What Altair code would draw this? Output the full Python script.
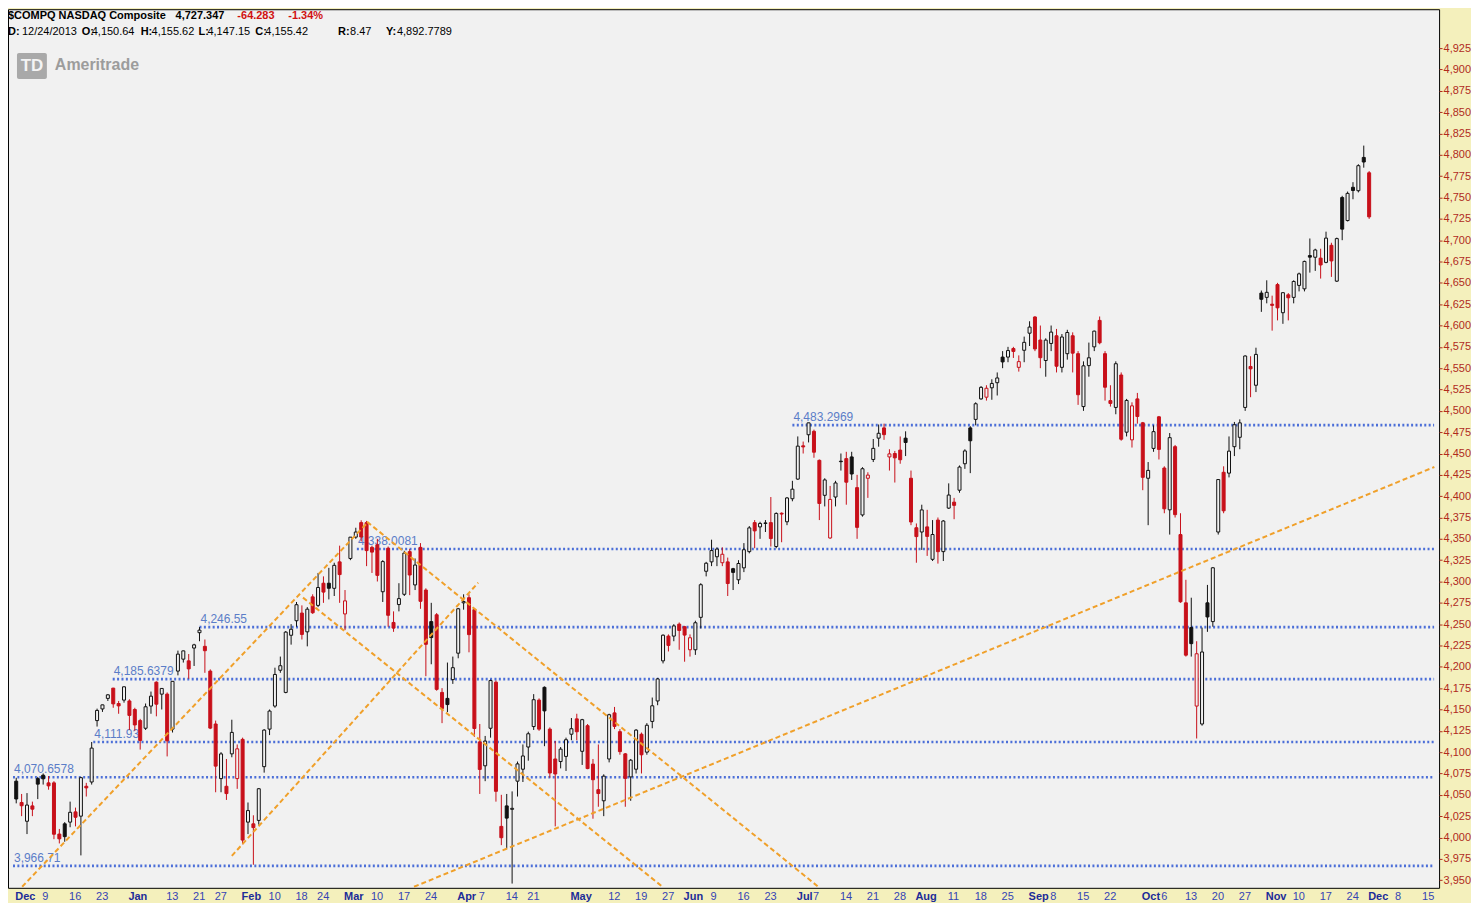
import altair as alt
import pandas as pd

# ---------------- data (NASDAQ Composite daily candles, Dec 2 2013 .. Dec 1 2014) ----------------
opens = [
4066, 4041, 4019, 4037, 4069, 4073, 4064, 4064, 4004, 4016,
4018, 4030, 4025, 4060, 4065, 4137, 4150.64, 4163, 4175, 4157,
4161, 4160, 4150, 4137, 4128, 4154, 4182, 4168, 4168, 4127,
4195, 4209, 4207, 4222, 4240, 4224, 4195, 4133, 4069, 4060,
4098, 4069, 4115, 4018, 4016, 4020, 4083, 4127, 4154, 4196,
4170, 4237, 4254, 4263, 4241, 4282, 4272, 4298, 4298, 4292,
4323, 4262, 4327, 4352, 4369, 4369, 4340, 4343, 4288, 4339,
4252, 4273, 4285, 4335, 4296, 4340, 4290, 4253, 4261, 4170,
4163, 4185, 4216, 4275, 4281, 4267, 4112, 4084, 4128, 4182,
4013, 4037, 4033, 4066, 4080, 4106, 4130, 4161, 4176, 4127,
4092, 4089, 4095, 4121, 4139, 4101, 4131, 4086, 4056, 4043,
4092, 4146, 4124, 4098, 4071, 4080, 4121, 4100, 4136, 4160,
4207, 4236, 4236, 4250, 4247, 4220, 4220, 4258, 4312, 4323,
4329, 4322, 4323, 4315, 4302, 4316, 4335, 4369, 4364, 4368,
4369, 4341, 4380, 4370, 4397, 4420, 4459, 4472, 4476, 4442,
4401, 4351, 4399, 4441, 4444, 4446, 4410, 4378, 4421, 4443,
4468, 4480, 4446, 4450, 4454, 4468, 4421, 4363, 4358, 4364,
4326, 4372, 4335, 4386, 4393, 4407, 4438, 4480, 4490, 4514,
4516, 4527, 4533, 4563, 4563, 4573, 4551, 4571, 4591, 4610,
4583, 4559, 4579, 4588, 4551, 4567, 4588, 4567, 4505, 4553,
4575, 4606, 4567, 4512, 4504, 4542, 4475, 4466, 4514, 4486,
4421, 4456, 4493, 4433, 4384, 4458, 4355, 4275, 4246, 4154,
4133, 4275, 4253, 4358, 4428, 4427, 4458, 4469, 4504, 4552,
4530, 4638, 4633, 4625, 4648, 4615, 4636, 4633, 4647, 4643,
4682, 4680, 4679, 4674, 4694, 4652, 4750, 4723, 4762, 4758,
4797, 4779,
]
highs = [
4070, 4051, 4052, 4042, 4071, 4075, 4072, 4066, 4010, 4018,
4042, 4035, 4071, 4064, 4111.93, 4151, 4155.62, 4168, 4175.4, 4160,
4177, 4162, 4152, 4139, 4157, 4171, 4183, 4175, 4170, 4183,
4219, 4219, 4215, 4227, 4246.55, 4232, 4197, 4137, 4100, 4092,
4138, 4109, 4117, 4041, 4026, 4058, 4127, 4150, 4199, 4212,
4242, 4250, 4276, 4272, 4270, 4285, 4310, 4306, 4316, 4322,
4342, 4290, 4352, 4363, 4371.7, 4371, 4342, 4350, 4325, 4341,
4265, 4298, 4336, 4338, 4327, 4345, 4292, 4275, 4263, 4175,
4205, 4212, 4269, 4285, 4285, 4268, 4133, 4119, 4185, 4184,
4050, 4051, 4054, 4089, 4109, 4124, 4168, 4163, 4177, 4129,
4113, 4106, 4117, 4140, 4145, 4139, 4133, 4092, 4109, 4074,
4145, 4153, 4127, 4099, 4092, 4127, 4123, 4134, 4164, 4187,
4238, 4238, 4250, 4252, 4248, 4238, 4254, 4298, 4323, 4349,
4340, 4340, 4328, 4316, 4325, 4345, 4365, 4372, 4370, 4372,
4399, 4381, 4381, 4399, 4418, 4470, 4464, 4486, 4478, 4443,
4421, 4412, 4418, 4450, 4452, 4452, 4425, 4434, 4428, 4467,
4484, 4485, 4455, 4453, 4470, 4476, 4430, 4368, 4390, 4384,
4372, 4375, 4372, 4415, 4398, 4436, 4455, 4482, 4510, 4529,
4530, 4537, 4545, 4570, 4575, 4575, 4565, 4587, 4605, 4611,
4600, 4585, 4600, 4596, 4590, 4595, 4592, 4570, 4558, 4580,
4594, 4610.57, 4570, 4530, 4558, 4545, 4514, 4510, 4521, 4487,
4440, 4483, 4494, 4435, 4474, 4460, 4380, 4302, 4281, 4230,
4246, 4296, 4317, 4420, 4435, 4470, 4487, 4490, 4565, 4564,
4574, 4641, 4653, 4635, 4650, 4639, 4638, 4653, 4662, 4676,
4702, 4690, 4690, 4710, 4697, 4703, 4752, 4757, 4768, 4789,
4810.86, 4781,
]
lows = [
4040, 4025, 4004, 4025, 4045, 4062, 4056, 3998, 3993, 3995,
4012, 4013, 3979, 4048, 4062, 4130, 4147.15, 4160, 4152, 4145,
4158, 4126, 4125, 4103, 4126, 4145, 4142, 4150, 4095, 4123,
4190, 4205, 4186, 4201, 4230, 4193, 4127, 4053, 4053, 4044,
4094, 4057, 3992, 4004, 3968, 4015, 4076, 4120, 4152, 4193,
4169, 4226, 4247, 4232, 4224, 4262, 4270, 4275, 4279, 4283,
4275, 4243, 4325, 4350, 4347, 4318, 4310, 4300, 4276, 4247,
4241, 4265, 4283, 4284, 4290, 4268, 4189, 4203, 4172, 4134,
4147, 4180, 4210, 4267, 4217, 4118, 4051, 4066, 4117, 4042,
3991, 3987, 3946, 4048, 4065, 4090, 4126, 4125, 4107, 4070,
4013, 4081, 4078, 4114, 4114, 4085, 4080, 4022, 4036, 4025,
4088, 4127, 4097, 4036, 4043, 4075, 4075, 4097, 4128, 4155,
4204, 4218, 4230, 4220, 4206, 4212, 4214, 4245, 4306, 4318,
4318, 4318, 4283, 4290, 4297, 4311, 4333, 4339, 4350, 4358,
4341, 4339, 4346, 4366, 4394, 4419, 4450, 4463, 4445, 4372,
4388, 4350, 4388, 4430, 4390, 4419, 4350, 4376, 4398, 4440,
4458, 4466, 4430, 4416, 4438, 4447, 4366, 4322, 4337, 4330,
4324, 4321, 4324, 4385, 4373, 4404, 4432, 4427, 4483, 4513,
4512, 4513, 4518, 4550, 4557, 4562, 4546, 4557, 4576, 4570,
4550, 4540, 4570, 4545, 4545, 4560, 4545, 4507, 4500, 4540,
4570, 4578, 4512, 4505, 4496, 4465, 4470, 4457, 4485, 4407,
4366, 4452, 4443, 4380, 4355, 4375, 4275, 4212, 4212, 4116,
4131, 4241, 4247, 4355, 4380, 4422, 4447, 4455, 4500, 4516,
4522, 4616, 4626, 4594, 4606, 4602, 4606, 4626, 4640, 4640,
4662, 4664, 4655, 4673, 4657, 4651, 4700, 4722, 4748, 4756,
4785, 4725,
]
closes = [
4045.11, 4037.20, 4038.00, 4033.16, 4062.52, 4068.75, 4060.49, 4003.81, 3998.40, 4000.98,
4029.52, 4023.68, 4070.06, 4058.13, 4104.74, 4148.90, 4155.42, 4167.18, 4156.59, 4154.20,
4176.59, 4143.07, 4131.91, 4113.68, 4153.18, 4165.61, 4156.19, 4174.67, 4113.30, 4183.02,
4214.88, 4218.69, 4197.58, 4225.76, 4243.00, 4218.88, 4128.17, 4083.61, 4097.96, 4051.43,
4123.13, 4103.88, 3996.96, 4031.52, 4011.55, 4057.12, 4125.86, 4148.17, 4191.05, 4201.29,
4240.67, 4244.03, 4272.78, 4237.95, 4267.55, 4263.41, 4292.97, 4287.59, 4292.06, 4318.93,
4308.12, 4277.30, 4351.97, 4357.97, 4352.13, 4336.22, 4334.45, 4307.19, 4323.33, 4260.42,
4245.40, 4279.95, 4333.31, 4307.60, 4319.29, 4276.79, 4226.39, 4234.27, 4173.58, 4151.23,
4155.76, 4198.99, 4268.04, 4276.46, 4237.74, 4127.73, 4079.75, 4112.99, 4183.90, 4054.11,
3999.73, 4022.69, 4034.16, 4086.23, 4095.52, 4121.55, 4161.46, 4126.97, 4148.34, 4075.56,
4074.40, 4103.54, 4114.56, 4127.45, 4123.90, 4138.06, 4080.76, 4067.67, 4051.50, 4071.87,
4143.86, 4130.17, 4100.63, 4069.29, 4090.59, 4125.82, 4096.89, 4131.54, 4154.34, 4185.81,
4237.07, 4225.08, 4247.95, 4242.62, 4237.20, 4234.08, 4251.64, 4296.23, 4321.40, 4336.24,
4338.00, 4331.93, 4297.63, 4310.65, 4321.11, 4337.23, 4362.84, 4359.33, 4368.04, 4368.68,
4350.35, 4379.76, 4379.05, 4397.93, 4408.18, 4458.65, 4457.73, 4485.93, 4451.53, 4391.46,
4419.03, 4396.20, 4415.49, 4440.42, 4416.39, 4425.97, 4363.45, 4432.15, 4424.70, 4456.02,
4473.70, 4472.11, 4449.56, 4444.91, 4442.70, 4462.90, 4369.77, 4352.64, 4383.89, 4352.84,
4355.05, 4334.97, 4370.90, 4401.33, 4389.25, 4434.13, 4453.00, 4464.93, 4508.31, 4527.51,
4526.48, 4532.10, 4538.55, 4557.35, 4570.64, 4569.62, 4557.70, 4580.27, 4598.19, 4572.57,
4562.29, 4582.90, 4592.29, 4552.29, 4586.52, 4591.81, 4567.60, 4518.90, 4552.76, 4562.19,
4593.43, 4579.79, 4527.69, 4508.69, 4555.22, 4466.75, 4512.19, 4505.85, 4493.39, 4422.09,
4430.19, 4475.62, 4454.80, 4385.20, 4468.59, 4378.34, 4276.24, 4213.66, 4227.17, 4215.32,
4217.39, 4258.44, 4316.07, 4419.48, 4382.85, 4452.79, 4483.72, 4485.93, 4564.29, 4549.23,
4566.14, 4630.74, 4638.91, 4623.64, 4620.72, 4638.47, 4632.53, 4651.62, 4660.56, 4675.14,
4680.14, 4688.54, 4671.00, 4702.44, 4675.71, 4701.87, 4712.97, 4754.89, 4758.25, 4787.32,
4791.63, 4727.35,
]

# horizontal support / resistance levels (value, label, starting bar)
level_values = [4483.2969, 4338.0081, 4246.55, 4185.6379, 4111.93, 4070.6578, 3966.71]
level_labels = ["4,483.2969", "4,338.0081", "4,246.55", "4,185.6379", "4,111.93", "4,070.6578", "3,966.71"]
level_start = [144.0, 63.2, 34.0, 17.9, 14.3, -0.6, -0.6]

# orange trend lines (bar index / price end points)
trend_x1 = [1.1, 65.1, 53.2, 40.0, 73.8]
trend_y1 = [3942.2, 4369.9, 4281.1, 3978.4, 3942.2]
trend_x2 = [65.3, 148.8, 119.9, 85.7, 263.1]
trend_y2 = [4369.9, 3942.2, 3942.2, 4298.6, 4434.2]

# bottom date labels (bar position, text)
tick_idx = [0, 5, 10, 15, 21, 28, 33, 37, 42, 47, 52, 56, 61, 66, 71, 76, 82, 86, 91, 95,
            103, 110, 115, 120, 124, 129, 134, 139, 145, 148, 153, 158, 163, 167, 173, 178, 183,
            188, 192, 197, 202, 209, 212.6, 217, 222, 227, 232, 237, 242, 247, 251, 256, 261]
tick_text = ["Dec", "9", "16", "23", "Jan", "13", "21", "27", "Feb", "10", "18", "24", "Mar", "10",
             "17", "24", "Apr", "7", "14", "21", "May", "12", "19", "27", "Jun", "9", "16", "23",
             "Jul", "7", "14", "21", "28", "Aug", "11", "18", "25", "Sep", "8", "15", "22", "Oct",
             "6", "13", "20", "27", "Nov", "10", "17", "24", "Dec", "8", "15"]
month_names = {"Jan", "Feb", "Mar", "Apr", "May", "Jun", "Jul", "Aug", "Sep", "Oct", "Nov", "Dec"}

y_ticks = list(range(3950, 4926, 25))

# ---------------- styling ----------------
RED = "#C8101A"
BLACK = "#111111"
PLOT_BG = "#F1F1F1"
AXIS_BG = "#F4F0BC"
W, H = 1435, 881
XDOM = [-0.6, 263.05]
YDOM = [3941.0, 4970.7]
FONT = "Liberation Sans"

n = len(closes)
colors, fills, blo, bhi = [], [], [], []
for i in range(n):
    c = BLACK if i == 0 or closes[i] >= closes[i - 1] else RED
    colors.append(c)
    fills.append(PLOT_BG if closes[i] > opens[i] else c)
    blo.append(min(opens[i], closes[i]))
    bhi.append(max(opens[i], closes[i]))

cdf = pd.DataFrame({"i": list(range(n)), "o": opens, "h": highs, "l": lows, "c": closes,
                    "col": colors, "fc": fills, "bl": blo, "bh": bhi})
ldf = pd.DataFrame({"v": level_values, "t": level_labels, "s": level_start, "e": [XDOM[1]] * len(level_values)})
tdf = pd.DataFrame({"x1": trend_x1, "y1": trend_y1, "x2": trend_x2, "y2": trend_y2})
xdf = pd.DataFrame({"i": tick_idx, "t": tick_text, "m": [t in month_names for t in tick_text]})

xs = alt.Scale(domain=XDOM, nice=False, zero=False)
ys = alt.Scale(domain=YDOM, nice=False, zero=False)
yaxis = alt.Axis(orient="right", values=y_ticks, format=",d", labelColor="#B02A1C",
                 labelFont=FONT, labelFontSize=11, tickColor="#B02A1C", tickSize=3,
                 labelPadding=1, domain=False, grid=False, title=None, labelOverlap=False)

levels = alt.Chart(ldf).mark_rule(strokeDash=[2, 2.4], strokeWidth=2.6, color="#4C6FD8", clip=True).encode(
    x=alt.X("s:Q", scale=xs, axis=None), x2="e:Q",
    y=alt.Y("v:Q", scale=ys, axis=yaxis))
level_text = alt.Chart(ldf).mark_text(align="left", baseline="bottom", dx=1, dy=-1, font=FONT,
                                      fontSize=12, color="#5B7DC8").encode(
    x=alt.X("s:Q", scale=xs, axis=None), y=alt.Y("v:Q", scale=ys, axis=yaxis), text="t:N")

wicks = alt.Chart(cdf).mark_rule(strokeWidth=1).encode(
    x=alt.X("i:Q", scale=xs, axis=None),
    y=alt.Y("l:Q", scale=ys, axis=yaxis), y2="h:Q",
    color=alt.Color("col:N", scale=None))
bodies = alt.Chart(cdf).mark_bar(size=3, strokeWidth=1).encode(
    x=alt.X("i:Q", scale=xs, axis=None),
    y=alt.Y("bl:Q", scale=ys, axis=yaxis), y2="bh:Q",
    fill=alt.Fill("fc:N", scale=None), stroke=alt.Stroke("col:N", scale=None))

trends = alt.Chart(tdf).mark_rule(strokeDash=[5, 3], strokeWidth=2, color="#F0A02A", clip=True).encode(
    x=alt.X("x1:Q", scale=xs, axis=None), x2="x2:Q",
    y=alt.Y("y1:Q", scale=ys, axis=yaxis), y2="y2:Q")

months = alt.Chart(xdf).transform_filter("datum.m").mark_text(
    align="left", baseline="top", dx=-1, font=FONT, fontSize=11,
    fontWeight="bold", color="#1C2C98").encode(
    x=alt.X("i:Q", scale=xs, axis=None), y=alt.value(H + 3), text="t:N")
days = alt.Chart(xdf).transform_filter("!datum.m").mark_text(
    align="left", baseline="top", dx=-1, font=FONT, fontSize=11,
    color="#3444B4").encode(
    x=alt.X("i:Q", scale=xs, axis=None), y=alt.value(H + 3), text="t:N")

# header annotations (pixel placed text)
hdr = []
def htext(txt, x, y, size, bold, color):
    return alt.Chart(pd.DataFrame({"t": [txt]})).mark_text(
        align="left", baseline="middle", font=FONT, fontSize=size,
        fontWeight="bold" if bold else "normal", color=color).encode(
        text="t:N", x=alt.value(x), y=alt.value(y))

line1 = [("$COMPQ NASDAQ Composite", 0, True, "#000000"), ("4,727.347", 168, True, "#000000"),
         ("-64.283", 230, True, "#D01010"), ("-1.34%", 281, True, "#D01010")]
for t, x, b, c in line1:
    hdr.append(htext(t, x, 7, 11, b, c))
line2 = [("D:", 0, True), ("12/24/2013", 14, False), ("O:", 74, True), ("4,150.64", 84, False),
         ("H:", 133, True), ("4,155.62", 144, False), ("L:", 191, True), ("4,147.15", 200, False),
         ("C:", 248, True), ("4,155.42", 258, False), ("R:", 331, True), ("8.47", 343, False),
         ("Y:", 379, True), ("4,892.7789", 390, False)]
for t, x, b in line2:
    hdr.append(htext(t, x, 23, 11, b, "#000000"))

logo_box = alt.Chart(pd.DataFrame({"t": ["TD"]})).mark_rect(color="#A9A9A9", cornerRadius=2).encode(
    x=alt.value(9), x2=alt.value(39), y=alt.value(44), y2=alt.value(70))
logo_td = alt.Chart(pd.DataFrame({"t": ["TD"]})).mark_text(
    align="center", baseline="middle", font=FONT, fontSize=17, fontWeight="bold", color="#F4F4F4").encode(
    text="t:N", x=alt.value(24), y=alt.value(57))
logo_name = htext("Ameritrade", 47, 56, 16, True, "#9C9C9C")

chart = alt.layer(levels, level_text, wicks, bodies, trends, months, days,
                  logo_box, logo_td, logo_name, *hdr).properties(
    width=W, height=H, background=AXIS_BG,
    padding={"left": 0, "top": 0, "right": 0, "bottom": 0}
).configure_view(fill=PLOT_BG, stroke="#000000", strokeWidth=1)

chart.save("out.html", embed_options={"renderer": "svg", "actions": False})
